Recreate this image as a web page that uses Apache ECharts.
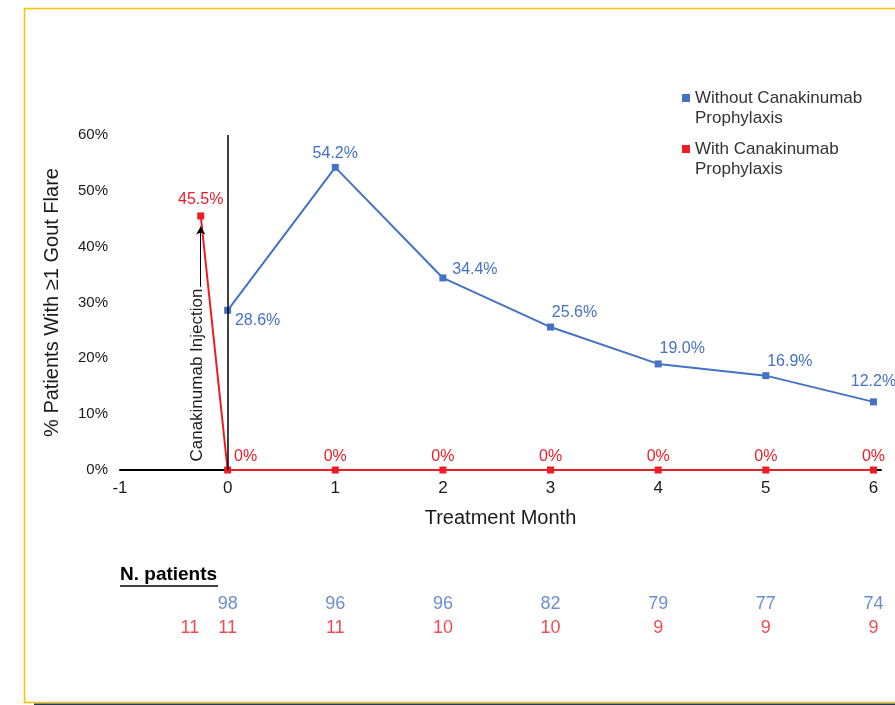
<!DOCTYPE html>
<html lang="en">
<head>
<meta charset="UTF-8">
<title>Gout flares by treatment month</title>
<style>
    * { padding: 0; margin: 0; }
    body { background: #fff; }
</style>
<script src="https://cdn.jsdelivr.net/npm/echarts/dist/echarts.min.js"></script>
</head>
<body>
<div id="main" style="width:895px;height:705px;"></div>
<script>
// data
var months = [0, 1, 2, 3, 4, 5, 6];
var withoutPct = [28.6, 54.2, 34.4, 25.6, 19.0, 16.9, 12.2];
var withMonths = [-0.25, 0, 1, 2, 3, 4, 5, 6];
var withPct = [45.5, 0, 0, 0, 0, 0, 0, 0];
var nMonthsWithout = [0, 1, 2, 3, 4, 5, 6];
var nWithout = [98, 96, 96, 82, 79, 77, 74];
var nMonthsWith = [-0.35, 0, 1, 2, 3, 4, 5, 6];
var nWith = [11, 11, 11, 10, 10, 9, 9, 9];
var seriesNames = ['Without Canakinumab Prophylaxis', 'With Canakinumab Prophylaxis'];

// label nudges (style only)
var blueOffsets = [[30, 27], [0, 3], [32, 8], [24, 2], [24, 1], [24, 2], [0, -4]];
var redOffsets = [[0, 0], [18, 3], [0, 3], [0, 3], [0, 3], [0, 3], [0, 3], [0, 3]];

var BLUE = '#4472C4';
var RED = '#EE1C25';
var FONT = "'Liberation Sans', Arial, sans-serif";

var myChart = echarts.init(document.getElementById('main'));

// blank first line keeps the square level with the first text line
var legendBase = {
    orient: 'vertical',
    left: 677,
    icon: 'rect',
    itemWidth: 8,
    itemHeight: 8,
    selectedMode: false,
    formatter: function (n) { return ' \n' + n.replace(' Prophylaxis', '\nProphylaxis'); },
    textStyle: { fontFamily: FONT, fontSize: 17, lineHeight: 20, color: '#333' }
};

var option = {
    animation: false,
    backgroundColor: '#fff',
    textStyle: { fontFamily: FONT },
    legend: [
        Object.assign({}, legendBase, { data: [seriesNames[0]], top: 63 }),
        Object.assign({}, legendBase, { data: [seriesNames[1]], top: 114 })
    ],
    grid: [
        { left: 120, right: 14, top: 135, bottom: 235 },
        { left: 120, right: 14, top: 604, height: 24 }
    ],
    xAxis: [{
        type: 'value',
        gridIndex: 0,
        min: -1,
        max: 6.07,
        interval: 1,
        name: 'Treatment Month',
        nameLocation: 'middle',
        nameGap: 38,
        nameTextStyle: { fontSize: 20, color: '#1a1a1a', fontFamily: FONT },
        axisLine: { show: true, onZero: false, lineStyle: { color: '#000', width: 2 } },
        axisTick: { show: false },
        splitLine: { show: false },
        axisLabel: { fontSize: 17, color: '#1a1a1a', margin: 10, showMaxLabel: false }
    }, {
        type: 'value',
        gridIndex: 1,
        min: -1,
        max: 6.07,
        show: false
    }],
    yAxis: [{
        type: 'value',
        gridIndex: 0,
        min: 0,
        max: 60,
        interval: 10,
        name: '% Patients With \u22651 Gout Flare',
        nameLocation: 'middle',
        nameGap: 58,
        nameTextStyle: { fontSize: 20, color: '#1a1a1a', fontFamily: FONT },
        axisLine: { show: false },
        axisTick: { show: false },
        splitLine: { show: false },
        axisLabel: { fontSize: 15, color: '#1a1a1a', margin: 12, formatter: '{value}%' }
    }, {
        type: 'value',
        gridIndex: 1,
        min: 0,
        max: 1,
        inverse: true,
        show: false
    }],
    series: [{
        name: seriesNames[0],
        type: 'line',
        data: months.map(function (m, i) {
            return { value: [m, withoutPct[i]], label: { offset: blueOffsets[i] } };
        }),
        symbol: 'rect',
        symbolSize: 7,
        lineStyle: { color: BLUE, width: 2 },
        itemStyle: { color: BLUE },
        z: 3,
        label: {
            show: true,
            position: 'top',
            fontSize: 16,
            color: BLUE,
            formatter: function (p) { return p.value[1].toFixed(1) + '%'; }
        },
        markLine: {
            silent: true,
            symbol: 'none',
            label: { show: false },
            lineStyle: { color: '#000', width: 1.5, type: 'solid' },
            data: [[{ coord: [0, 0] }, { coord: [0, 60] }]]
        }
    }, {
        name: seriesNames[1],
        type: 'line',
        data: withMonths.map(function (m, i) {
            return { value: [m, withPct[i]], label: { offset: redOffsets[i] } };
        }),
        symbol: 'rect',
        symbolSize: 7,
        lineStyle: { color: RED, width: 2 },
        itemStyle: { color: RED },
        z: 4,
        label: {
            show: true,
            position: 'top',
            fontSize: 16,
            color: RED,
            formatter: function (p) { return p.value[1] === 0 ? '0%' : p.value[1].toFixed(1) + '%'; }
        },
        markLine: {
            silent: true,
            symbol: ['none', 'arrow'],
            symbolSize: [7, 8],
            label: { show: false },
            lineStyle: { color: '#000', width: 1, type: 'solid' },
            data: [
                [{ coord: [-0.25, 32.8] }, { coord: [-0.25, 43.6] }],
                [{
                    coord: [-0.2, 1.2],
                    symbol: 'none',
                    lineStyle: { color: 'rgba(0,0,0,0)', width: 0 },
                    label: {
                        show: true,
                        position: 'middle',
                        distance: 0,
                        formatter: 'Canakinumab Injection',
                        fontSize: 17,
                        color: '#1a1a1a',
                        fontFamily: FONT
                    }
                }, { coord: [-0.2, 32.8], symbol: 'none' }]
            ]
        }
    }, {
        name: 'n-without',
        type: 'scatter',
        xAxisIndex: 1,
        yAxisIndex: 1,
        symbolSize: 1,
        itemStyle: { color: 'rgba(0,0,0,0)' },
        silent: true,
        data: nMonthsWithout.map(function (m, i) { return [m, 0, nWithout[i]]; }),
        label: {
            show: true,
            position: 'inside',
            fontSize: 18,
            color: BLUE,
            formatter: function (p) { return p.value[2]; }
        }
    }, {
        name: 'n-with',
        type: 'scatter',
        xAxisIndex: 1,
        yAxisIndex: 1,
        symbolSize: 1,
        itemStyle: { color: 'rgba(0,0,0,0)' },
        silent: true,
        data: nMonthsWith.map(function (m, i) { return [m, 1, nWith[i]]; }),
        label: {
            show: true,
            position: 'inside',
            fontSize: 18,
            color: RED,
            formatter: function (p) { return p.value[2]; }
        }
    }],
    graphic: [
        {
            type: 'rect',
            shape: { x: 24.5, y: 8.5, width: 900, height: 694 },
            style: { fill: 'none', stroke: '#FFC000', lineWidth: 1.5 },
            silent: true
        },
        {
            type: 'line',
            shape: { x1: 34, y1: 704.5, x2: 895, y2: 704.5 },
            style: { stroke: '#1F3864', lineWidth: 2 },
            silent: true
        },
        {
            type: 'text',
            left: 120,
            top: 565,
            style: { text: 'N. patients', font: 'bold 19px ' + FONT, fill: '#000' }
        },
        {
            type: 'line',
            shape: { x1: 120, y1: 586, x2: 218, y2: 586 },
            style: { stroke: '#000', lineWidth: 1.5 }
        }
    ]
};

myChart.setOption(option);
</script>
</body>
</html>
